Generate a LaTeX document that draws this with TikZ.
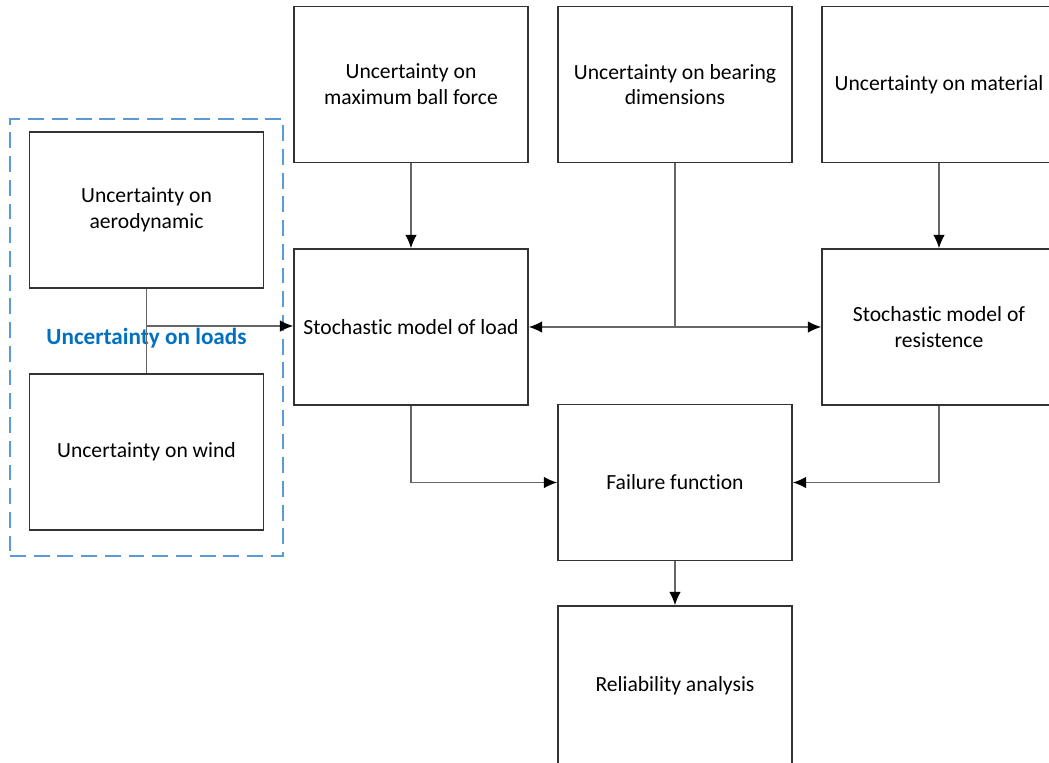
\documentclass[tikz,border=0pt]{standalone}
\usepackage{fontspec}
\setmainfont{Carlito}[Ligatures=NoCommon]
\usetikzlibrary{arrows.meta}
\definecolor{loadblue}{RGB}{0,112,192}
\definecolor{dashblue}{RGB}{91,155,213}

\begin{document}
\begin{tikzpicture}[x=0.02cm,y=-0.02cm,>={Latex[length=7.5pt,width=6.5pt,color=black]},
		block/.style={draw=black!80,line width=1pt,fill=white,minimum width=4.68cm,minimum height=3.12cm,inner sep=0pt,align=center,font=\fontsize{12.3}{14.7}\selectfont},
		link/.style={draw=black!60,line width=0.7pt}]
			\useasboundingbox (0,0) rectangle (1049,762);
			\node[draw=dashblue,line width=0.9pt,dash pattern=on 9pt off 4.5pt,minimum width=5.46cm,minimum height=8.74cm] (loadgroup) at (146.5,337.5) {};

			\node[block] (aero)     at (146.5,210) {Uncertainty on\\aerodynamic};
			\node[block] (wind)     at (146.5,452) {Uncertainty on wind};
			\node[block] (ball)     at (411,84.5)  {Uncertainty on\\maximum ball force};
			\node[block] (bearing)  at (675,84.5)  {Uncertainty on bearing\\dimensions};
			\node[block] (material) at (939,84.5)  {Uncertainty on material};
			\node[block] (load)     at (411,327)   {Stochastic model of load};
			\node[block] (resist)   at (939,327)   {Stochastic model of\\resistence};
			\node[block] (fail)     at (675,482.5) {Failure function};
			\node[block,minimum height=3.2cm] (rel) at (675,686) {Reliability analysis};

			\node[text=loadblue,font=\fontsize{13.2}{15}\selectfont\bfseries] (loadlabel) at (146.5,338) {Uncertainty on loads};

			\coordinate (aerojoin) at (146.5,326);
			\coordinate (bearjoin) at (bearing |- load);

			\draw[link] (aero) -- (wind);
			\draw[link,->] (aerojoin) -- (aerojoin -| load.west);
			\draw[link] (bearing) -- (bearjoin);
			\draw[link,->] (bearjoin) -- (load);
			\draw[link,->] (bearjoin) -- (resist);
			\draw[link,->] (ball) -- (load);
			\draw[link,->] (material) -- (resist);
			\draw[link,->] (load) |- (fail);
			\draw[link,->] (resist) |- (fail);
			\draw[link,->] (fail) -- (rel);
\end{tikzpicture}
\end{document}
